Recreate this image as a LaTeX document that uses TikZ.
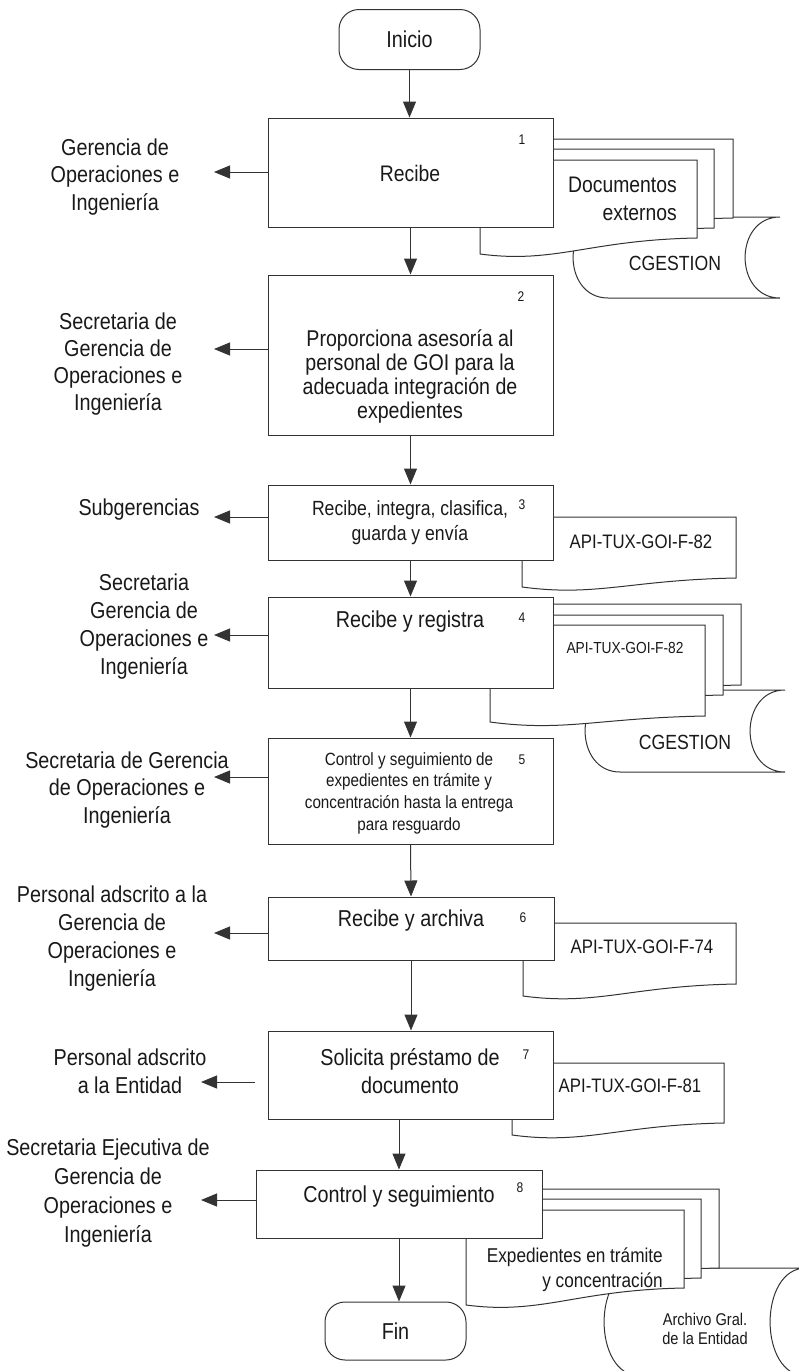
\documentclass[tikz,border=0pt]{standalone}
\usepackage{fontspec}
\setmainfont{Liberation Sans}[FakeStretch=0.86]
\usetikzlibrary{arrows.meta}
\definecolor{lc}{gray}{0.2}
\definecolor{tc}{gray}{0.1}
\newcommand\fsz[2]{\fontsize{#1}{#2}\selectfont}
% document shape: x1, x2, top, bottom-right y, bottom-left y
\newcommand\docwave[5]{\path[docst] (#1,#3) -- (#2,#3) -- (#2,#4) .. controls ({#2-0.5*(#2-#1)},{#4+2}) and ({#1+0.35*(#2-#1)},{#5+10}) .. (#1,#5) -- cycle;}
% stored-data shape: xl, xr, top, bottom, bulge
\newcommand\cylshape[5]{\path[docst] (#1,#3) -- (#2,#3) .. controls ({#2-1.33*#5},#3) and ({#2-1.33*#5},#4) .. (#2,#4) -- (#1,#4) .. controls ({#1-1.33*#5},#4) and ({#1-1.33*#5},#3) .. (#1,#3) -- cycle;}
\begin{document}
\begin{tikzpicture}[x=1pt,y=-1pt,
  pbox/.style={draw=lc,fill=white,line width=1pt,inner sep=0pt,rectangle},
  termst/.style={draw=lc,fill=white,line width=1pt,rounded corners=20pt,minimum width=141pt,minimum height=60pt,inner sep=0pt,text=tc,font=\fsz{23}{27}},
  arr/.style={draw=lc,line width=1pt,-{Triangle[length=16pt,width=13pt]}},
  docst/.style={draw=lc,fill=white,line width=1pt},
  lab/.style={align=center,inner sep=0pt,text=tc,font=\fsz{23}{27.5}},
  btxt/.style={align=center,inner sep=0pt,text=tc},
  numst/.style={inner sep=0pt,text=tc,font=\fsz{14}{16}}]
\useasboundingbox (0,0) rectangle (799,1371);
\fill[white] (0,0) rectangle (799,1371);
\clip (0,0) rectangle (799,1371);

% ---------- Inicio ----------
\node[termst] (inicio) at (409.5,39.5) {Inicio};

% ---------- Step 1 ----------
\cylshape{608}{780}{217}{298}{35}
\docwave{516}{733}{139}{218}{228}
\docwave{498}{714}{149}{228}{240}
\docwave{480}{697}{160}{238}{254}
\node[pbox,minimum width=285pt,minimum height=109pt] (b1) at (410.5,172.5) {};
\node[btxt,font=\fsz{22.5}{27}] (t1) at (410,173) {Recibe};
\node[numst] (n1) at (522,140) {1};
\node[btxt,align=right,anchor=east,font=\fsz{22.5}{28}] (md1) at (677,199) {Documentos\\externos};
\node[btxt,font=\fsz{20.5}{24}] (cg1) at (675,263) {CGESTION};
\node[lab] (l1) at (115,177) {Gerencia de\\Operaciones e\\Ingeniería};
\coordinate (a1) at (214,172);

% ---------- Step 2 ----------
\node[pbox,minimum width=285pt,minimum height=160pt] (b2) at (410.5,355) {};
\node[btxt,font=\fsz{22.8}{24}] (t2) at (410,376) {Proporciona asesoría al\\personal de GOI para la\\adecuada integración de\\expedientes};
\node[numst] (n2) at (521,297) {2};
\node[lab,font=\fsz{23}{26.7}] (l2) at (118,364) {Secretaria de\\Gerencia de\\Operaciones e\\Ingeniería};
\coordinate (a2) at (214,349);

% ---------- Step 3 ----------
\docwave{522}{736}{517}{578}{587}
\node[pbox,minimum width=285pt,minimum height=75pt] (b3) at (410.5,522.5) {};
\node[btxt,font=\fsz{20.5}{25}] (t3) at (410,522.5) {Recibe, integra, clasifica,\\guarda y envía};
\node[numst] (n3) at (522,505) {3};
\node[btxt,font=\fsz{19.5}{23}] (d3) at (641,542) {API-TUX-GOI-F-82};
\node[lab] (l3) at (139,510) {Subgerencias};
\coordinate (a3) at (214,517);

% ---------- Step 4 ----------
\cylshape{620}{785}{690}{772}{35}
\docwave{526}{741}{604}{685}{695}
\docwave{508}{723}{615}{695}{705}
\docwave{490}{705}{625}{716}{722}
\node[pbox,minimum width=285pt,minimum height=91pt] (b4) at (410.5,642.5) {};
\node[btxt,font=\fsz{23}{27}] (t4) at (410,622) {Recibe y registra};
\node[numst] (n4) at (522,618) {4};
\node[btxt,font=\fsz{16}{19}] (d4) at (625,648) {API-TUX-GOI-F-82};
\node[btxt,font=\fsz{20.5}{24}] (cg2) at (685,742) {CGESTION};
\node[lab,font=\fsz{23}{27.7}] (l4) at (144,626.5) {Secretaria\\Gerencia de\\Operaciones e\\Ingeniería};
\coordinate (a4) at (214,635);

% ---------- Step 5 ----------
\node[pbox,minimum width=285pt,minimum height=106pt] (b5) at (410.5,791) {};
\node[btxt,font=\fsz{17.7}{21.7}] (t5) at (409,793) {Control y seguimiento de\\expedientes en trámite y\\concentración hasta la entrega\\para resguardo};
\node[numst] (n5) at (522,760) {5};
\node[lab] (l5) at (127,790) {Secretaria de Gerencia\\de Operaciones e\\Ingeniería};
\coordinate (a5) at (214,777);

% ---------- Step 6 ----------
\docwave{523}{736}{923}{984}{996}
\node[pbox,minimum width=286pt,minimum height=63pt] (b6) at (411,928.5) {};
\node[btxt,font=\fsz{23}{27}] (t6) at (411,921) {Recibe y archiva};
\node[numst] (n6) at (523,918) {6};
\node[btxt,font=\fsz{19.5}{23}] (d6) at (642,947) {API-TUX-GOI-F-74};
\node[lab,font=\fsz{23}{27.7}] (l6) at (112,938.5) {Personal adscrito a la\\Gerencia de\\Operaciones e\\Ingeniería};
\coordinate (a6) at (214,933);

% ---------- Step 7 ----------
\docwave{512}{724}{1063}{1123}{1135}
\node[pbox,minimum width=285pt,minimum height=88pt] (b7) at (410.5,1075) {};
\node[btxt,font=\fsz{23}{28}] (t7) at (410,1071) {Solicita préstamo de\\documento};
\node[numst] (n7) at (526,1055) {7};
\node[btxt,font=\fsz{19.5}{23}] (d7) at (630,1086) {API-TUX-GOI-F-81};
\node[lab,font=\fsz{23}{28}] (l7) at (130,1071) {Personal adscrito\\a la Entidad};
\coordinate (a7) at (201,1082);

% ---------- Step 8 ----------
\cylshape{640}{806}{1268}{1376}{36}
\docwave{502}{719}{1189}{1268}{1278}
\docwave{484}{701}{1199}{1278}{1290}
\docwave{466}{684}{1210}{1288}{1305}
\node[pbox,minimum width=286pt,minimum height=68pt] (b8) at (399,1204) {};
\node[btxt,font=\fsz{23}{27}] (t8) at (399,1197) {Control y seguimiento};
\node[numst] (n8) at (520,1188) {8};
\node[btxt,align=right,anchor=east,font=\fsz{20}{25}] (md8) at (663,1270) {Expedientes en trámite\\y concentración};
\node[btxt,font=\fsz{17}{18.5}] (ar) at (705,1329) {Archivo Gral.\\de la Entidad};
\node[lab,font=\fsz{23}{29}] (l8) at (108,1193.5) {Secretaria Ejecutiva de\\Gerencia de\\Operaciones e\\Ingeniería};
\coordinate (a8) at (201,1200);

% ---------- Fin ----------
\node[termst,minimum height=58pt] (fin) at (395.5,1331) {Fin};

% ---------- main flow ----------
\draw[arr] (inicio.south) -- (inicio.south |- b1.north);
\draw[arr] (b1.south) -- (b2.north);
\draw[arr] (b2.south) -- (b3.north);
\draw[arr] (b3.south) -- (b4.north);
\draw[arr] (b4.south) -- (b5.north);
\draw[arr] (b5.south) -- (b6.north);
\draw[arr] (b6.south) -- (b6.south |- b7.north);
\draw[arr] (b8.north |- b7.south) -- (b8.north);
\draw[arr] (b8.south) -- (b8.south |- fin.north);

% ---------- side arrows ----------
\draw[arr] (b1.west |- a1) -- (a1);
\draw[arr] (b2.west |- a2) -- (a2);
\draw[arr] (b3.west |- a3) -- (a3);
\draw[arr] (b4.west |- a4) -- (a4);
\draw[arr] (b5.west |- a5) -- (a5);
\draw[arr] (b6.west |- a6) -- (a6);
\draw[arr,shorten <=13pt] (b7.west |- a7) -- (a7);
\draw[arr] (b8.west |- a8) -- (a8);
\end{tikzpicture}
\end{document}
